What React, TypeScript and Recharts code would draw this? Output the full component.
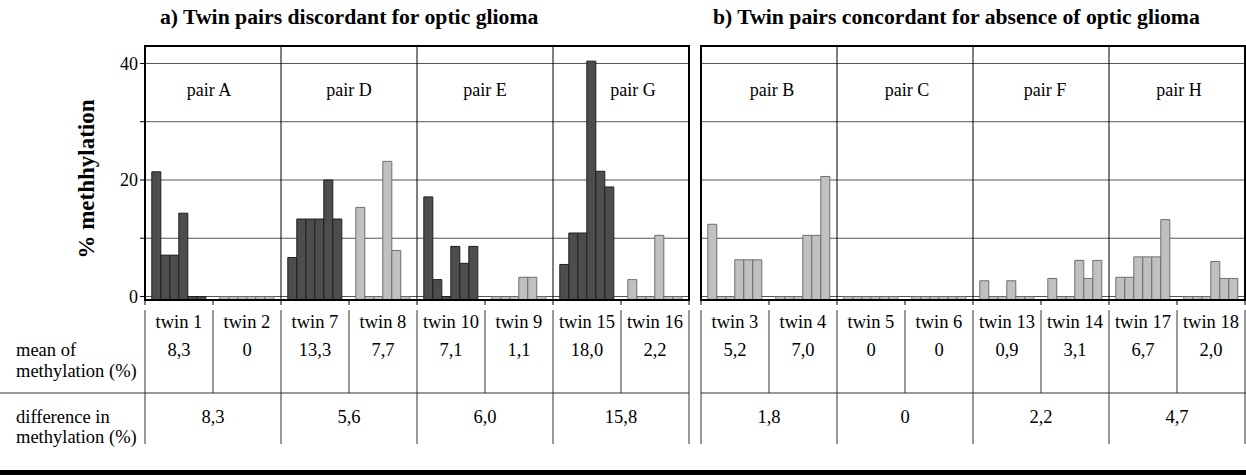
import React from 'react'
import { BarChart, Bar, Cell, XAxis, YAxis, CartesianGrid } from 'recharts'

const FONT = '"Liberation Serif", "Times New Roman", serif'

// y scale (% methylation)
const Y_MIN = -0.6
const Y_MAX = 43
const Y_TICKS = [0, 10, 20, 30, 40]

// six CpG sites per twin
const CPG_KEYS = ['c1', 'c2', 'c3', 'c4', 'c5', 'c6']

// a) twin pairs discordant for optic glioma
const TWINS_A = ['twin 1', 'twin 2', 'twin 7', 'twin 8', 'twin 10', 'twin 9', 'twin 15', 'twin 16']
const GLIOMA_A = [true, false, true, false, true, false, true, false]
const CPG_A = [
  [21.4, 7.1, 7.1, 14.3, 0, 0],
  [0, 0, 0, 0, 0, 0],
  [6.7, 13.3, 13.3, 13.3, 20.0, 13.3],
  [15.3, 0, 0, 23.2, 7.9, 0],
  [17.1, 2.9, 0, 8.6, 5.7, 8.6],
  [0, 0, 0, 3.3, 3.3, 0],
  [5.5, 10.9, 10.9, 40.4, 21.5, 18.8],
  [2.9, 0, 0, 10.5, 0, 0],
]
const MEANS_A = ['8,3', '0', '13,3', '7,7', '7,1', '1,1', '18,0', '2,2']
const PAIRS_A = ['pair A', 'pair D', 'pair E', 'pair G']
const DIFFS_A = ['8,3', '5,6', '6,0', '15,8']

// b) twin pairs concordant for absence of optic glioma
const TWINS_B = ['twin 3', 'twin 4', 'twin 5', 'twin 6', 'twin 13', 'twin 14', 'twin 17', 'twin 18']
const GLIOMA_B = [false, false, false, false, false, false, false, false]
const CPG_B = [
  [12.4, 0, 0, 6.3, 6.3, 6.3],
  [0, 0, 0, 10.5, 10.5, 20.6],
  [0, 0, 0, 0, 0, 0],
  [0, 0, 0, 0, 0, 0],
  [2.7, 0, 0, 2.7, 0, 0],
  [3.1, 0, 0, 6.2, 3.1, 6.2],
  [3.3, 3.3, 6.8, 6.8, 6.8, 13.2],
  [0, 0, 0, 6.0, 3.1, 3.1],
]
const MEANS_B = ['5,2', '7,0', '0', '0', '0,9', '3,1', '6,7', '2,0']
const PAIRS_B = ['pair B', 'pair C', 'pair F', 'pair H']
const DIFFS_B = ['1,8', '0', '2,2', '4,7']

const DARK = '#4d4d4d'
const DARK_EDGE = '#1e1e1e'
const LIGHT = '#c0c0c0'
const LIGHT_EDGE = '#6e6e6e'

// layout
const CHART_H = 476
const PLOT_TOP = 46
const AXIS_H = 176
const PLOT_BOTTOM = CHART_H - AXIS_H
const TABLE_TOP = 310
const ROW_TWIN = 328
const ROW_MEAN = 356
const ROW_MEAN2 = 377
const ROW_SPLIT = 393
const ROW_DIFF = 423
const ROW_DIFF2 = 443
const TABLE_END = 444

const txt = { fontFamily: FONT, fontSize: 18.5, fill: '#000' }

function toRows(twins: string[], cpg: number[][]) {
  return twins.map((t, i) => {
    const row: any = { twin: t }
    CPG_KEYS.forEach((k, j) => (row[k] = cpg[i][j]))
    return row
  })
}

type PanelProps = {
  twins: string[]
  glioma: boolean[]
  cpg: number[][]
  means: string[]
  pairs: string[]
  diffs: string[]
  width: number
  plotLeft: number
  plotRight: number
  withAxis: boolean
  splitFrom: number
  splitTo: number
  pairDx: number[]
}

function Panel(p: PanelProps) {
  const data = toRows(p.twins, p.cpg)
  const bw = (p.plotRight - p.plotLeft) / p.twins.length
  const last = p.twins.length - 1

  const renderTick = (props: any) => {
    const { x, index, payload } = props
    const left = x - bw / 2
    const right = x + bw / 2
    const pairStart = index % 2 === 0
    return (
      <g key={index}>
        {index === 0 && (
          <g>
            <rect x={p.plotLeft} y={PLOT_TOP} width={p.plotRight - p.plotLeft} height={PLOT_BOTTOM - PLOT_TOP}
              fill="none" stroke="#000" strokeWidth={2} />
            <line x1={p.splitFrom} x2={p.splitTo} y1={ROW_SPLIT} y2={ROW_SPLIT} stroke="#333" />
            {p.withAxis && (
              <g>
                <text x={16} y={ROW_MEAN} {...txt}>mean of</text>
                <text x={16} y={ROW_MEAN2} {...txt}>methylation (%)</text>
                <text x={16} y={ROW_DIFF} {...txt}>difference in</text>
                <text x={16} y={ROW_DIFF2} {...txt}>methylation (%)</text>
                <text x={86} y={179} transform="rotate(-90, 86, 179)" textAnchor="middle" dominantBaseline="central"
                  fontFamily={FONT} fontSize={23} fontWeight="bold" fill="#000">% methhylation</text>
              </g>
            )}
          </g>
        )}
        <line x1={left} x2={left} y1={PLOT_BOTTOM} y2={PLOT_BOTTOM + 5} stroke="#000" />
        <line x1={left} x2={left} y1={TABLE_TOP} y2={pairStart ? TABLE_END : ROW_SPLIT} stroke="#333" />
        {index === last && (
          <g>
            <line x1={right} x2={right} y1={PLOT_BOTTOM} y2={PLOT_BOTTOM + 5} stroke="#000" />
            <line x1={right} x2={right} y1={TABLE_TOP} y2={TABLE_END} stroke="#333" />
          </g>
        )}
        {pairStart && index > 0 && (
          <line x1={left} x2={left} y1={PLOT_TOP} y2={PLOT_BOTTOM} stroke="#000" />
        )}
        {pairStart && (
          <text x={right + p.pairDx[index / 2]} y={96} textAnchor="middle" {...txt} fontSize={18}>{p.pairs[index / 2]}</text>
        )}
        {pairStart && (
          <text x={right} y={ROW_DIFF} textAnchor="middle" {...txt}>{p.diffs[index / 2]}</text>
        )}
        <text x={x} y={ROW_TWIN} textAnchor="middle" {...txt}>{payload.value}</text>
        <text x={x} y={ROW_MEAN} textAnchor="middle" {...txt}>{p.means[index]}</text>
      </g>
    )
  }

  return (
    <BarChart
      width={p.width}
      height={CHART_H}
      data={data}
      margin={{ top: PLOT_TOP, right: p.width - p.plotRight, bottom: 0, left: p.withAxis ? 0 : p.plotLeft }}
      barCategoryGap="10%"
      barGap={0}
    >
      <CartesianGrid vertical={false} stroke="#555" />
      <XAxis
        dataKey="twin"
        height={AXIS_H}
        interval={0}
        tickLine={false}
        axisLine={{ stroke: '#000', strokeWidth: 2 }}
        tick={renderTick}
      />
      <YAxis
        type="number"
        domain={[Y_MIN, Y_MAX]}
        ticks={Y_TICKS}
        allowDataOverflow
        hide={!p.withAxis}
        width={p.withAxis ? p.plotLeft : 0}
        axisLine={false}
        tickSize={5}
        tickLine={{ stroke: '#000' }}
        tickFormatter={(v: number) => (v % 20 === 0 ? String(v) : '')}
        tick={{ fill: '#000', fontSize: 18, fontFamily: FONT }}
      />
      {CPG_KEYS.map((k) => (
        <Bar key={k} dataKey={(d: any) => [Y_MIN, d[k]]} isAnimationActive={false}>
          {data.map((_, i) => (
            <Cell
              key={i}
              fill={p.glioma[i] ? DARK : LIGHT}
              stroke={p.glioma[i] ? DARK_EDGE : LIGHT_EDGE}
              strokeWidth={1}
            />
          ))}
        </Bar>
      ))}
    </BarChart>
  )
}

const titleStyle: React.CSSProperties = {
  position: 'absolute',
  top: 7,
  fontFamily: FONT,
  fontSize: 21.7,
  fontWeight: 'bold',
  lineHeight: 1,
  whiteSpace: 'nowrap',
  color: '#000',
}

export default function App() {
  return (
    <div style={{ position: 'absolute', left: 0, top: 0, width: 1246, height: 476, background: '#fff', overflow: 'hidden' }}>
      <div style={{ ...titleStyle, left: 160 }}>a) Twin pairs discordant for optic glioma</div>
      <div style={{ ...titleStyle, left: 713 }}>b) Twin pairs concordant for absence of optic glioma</div>
      <div style={{ position: 'absolute', left: 0, top: 0 }}>
        <Panel
          twins={TWINS_A}
          glioma={GLIOMA_A}
          cpg={CPG_A}
          means={MEANS_A}
          pairs={PAIRS_A}
          diffs={DIFFS_A}
          width={700}
          plotLeft={145}
          plotRight={689}
          withAxis
          splitFrom={0}
          splitTo={689}
          pairDx={[-4, 0, 0, 12]}
        />
      </div>
      <div style={{ position: 'absolute', left: 690, top: 0 }}>
        <Panel
          twins={TWINS_B}
          glioma={GLIOMA_B}
          cpg={CPG_B}
          means={MEANS_B}
          pairs={PAIRS_B}
          diffs={DIFFS_B}
          width={556}
          plotLeft={11}
          plotRight={555}
          withAxis={false}
          splitFrom={11}
          splitTo={556}
          pairDx={[3, 2, 4, 2]}
        />
      </div>
      <div style={{ position: 'absolute', left: 0, top: 470, width: 1246, height: 5, background: '#000' }} />
    </div>
  )
}
